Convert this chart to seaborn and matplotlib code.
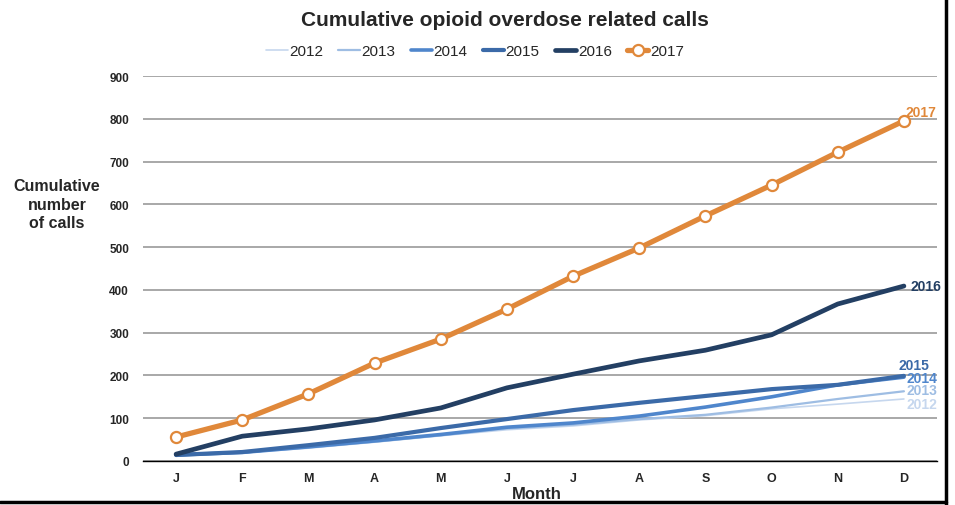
import matplotlib
matplotlib.use("Agg")
import matplotlib.pyplot as plt
from matplotlib.lines import Line2D
import seaborn as sns
import pandas as pd
import numpy as np

# data
months = ["J", "F", "M", "A", "M", "J", "J", "A", "S", "O", "N", "D"]
years = ["2012", "2013", "2014", "2015", "2016", "2017"]
calls2012 = [12, 19, 30, 44, 59, 73, 82, 96, 106, 122, 133, 145]
calls2013 = [13, 20, 32, 45, 60, 76, 85, 98, 108, 125, 145, 163]
calls2014 = [14, 20, 33, 47, 62, 79, 89, 105, 126, 150, 178, 196]
calls2015 = [14, 21, 37, 54, 77, 98, 119, 136, 152, 168, 178, 199]
calls2016 = [16, 58, 75, 96, 124, 171, 203, 234, 259, 295, 367, 409]
calls2017 = [56, 96, 157, 229, 285, 355, 432, 498, 573, 645, 722, 795]

allCalls = [calls2012, calls2013, calls2014, calls2015, calls2016, calls2017]
colors = ["#c6d7ee", "#9ebde3", "#4f86cc", "#3b6aa8", "#233f63", "#e0883a"]
widths = [1.2, 1.6, 2.6, 3.0, 3.4, 3.8]
# end label positions (data units) and x offsets
labelY = [134, 165, 194, 225, 410, 817]
labelX = [11.04, 11.04, 11.04, 10.92, 11.1, 11.03]

sns.set_style("white")
plt.rcParams['font.family'] = ['Liberation Sans', 'DejaVu Sans']

rows = []
for year, vals in zip(years, allCalls):
  for i, v in enumerate(vals):
    rows.append({"Year": year, "idx": i, "Calls": v})
df = pd.DataFrame(rows)

fig = plt.figure(figsize=(9.55, 5.06), dpi=100)
ax = fig.add_axes([143/955, 44/506, (937-143)/955, (462-77)/506])

for year, col, lw, ly, lx in zip(years, colors, widths, labelY, labelX):
  sub = df[df["Year"] == year]
  if year == "2017":
    sns.lineplot(data=sub, x="idx", y="Calls", ax=ax, color=col, linewidth=lw,
                 marker="o", markersize=8, markerfacecolor="white",
                 markeredgecolor=col, markeredgewidth=1.6, label=year, zorder=6)
  else:
    sns.lineplot(data=sub, x="idx", y="Calls", ax=ax, color=col, linewidth=lw,
                 label=year, zorder=3 + years.index(year) * 0.1)
  ax.text(lx, ly, year, color=col, fontsize=10, fontweight="bold",
          va="center", ha="left", clip_on=False)

ax.set_xlim(-0.5, 11.5)
ax.set_ylim(0, 900)
ax.set_yticks(np.arange(0, 901, 100))
ax.set_yticklabels([str(v) for v in range(0, 901, 100)], fontsize=8.5, fontweight="bold")
ax.set_xticks(np.arange(12))
ax.set_xticklabels(months, fontsize=9, fontweight="bold")
ax.set_xticks(np.arange(-0.5, 12, 1), minor=True)
ax.tick_params(axis="x", which="major", length=0, pad=8)
ax.tick_params(axis="x", which="minor", length=4, width=1, color="black", direction="out")
ax.tick_params(axis="y", length=0, pad=10)
ax.grid(axis="y", color="#999999", linewidth=1.2)
ax.grid(axis="x", visible=False)
for s in ["top", "right", "left"]:
  ax.spines[s].set_visible(False)
ax.spines["bottom"].set_color("black")
ax.spines["bottom"].set_linewidth(1)
ax.spines["bottom"].set_zorder(7)

ax.set_xlabel("")
ax.set_ylabel("")
fig.text(537/955, 1 - 495/506, "Month", ha="center", va="center",
         fontsize=12, fontweight="bold")
fig.text(57/955, 1 - 205/506, "Cumulative\nnumber\nof calls", ha="center", va="center",
         fontsize=11.5, fontweight="bold", linespacing=1.3)
fig.text(505/955, 1 - 20/506, "Cumulative opioid overdose related calls", ha="center",
         va="center", fontsize=15, fontweight="bold")

handles, labels = ax.get_legend_handles_labels()
ax.legend(handles, labels, loc="center", bbox_to_anchor=(475/955, 1 - 52/506),
          bbox_transform=fig.transFigure, ncol=6, frameon=False, fontsize=11,
          handlelength=1.4, handletextpad=0.1, columnspacing=1.0)

# black frame edges on right and bottom
fig.add_artist(Line2D([946/955, 946/955], [0, 1], color="black", linewidth=2.5, transform=fig.transFigure))
fig.add_artist(Line2D([0, 946/955], [3/506, 3/506], color="black", linewidth=2.5, transform=fig.transFigure))

fig.savefig("out.png", dpi=100)
